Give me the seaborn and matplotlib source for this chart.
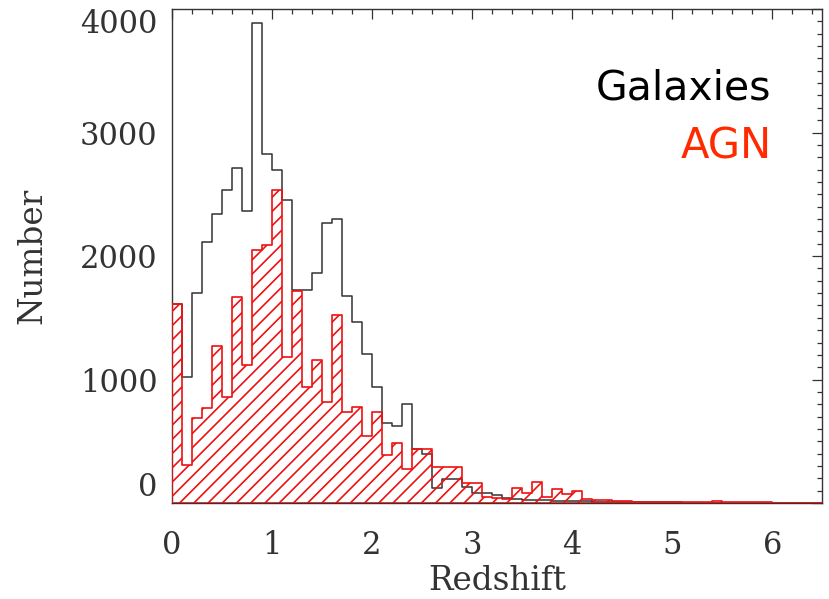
import numpy as np
import pandas as pd
import matplotlib
matplotlib.use("Agg")
import matplotlib.pyplot as plt
import seaborn as sns
from matplotlib.ticker import MultipleLocator

# ---- data (counts per redshift bin of width 0.1, starting at z=0) ----
bin_width = 0.1
bin_start = 0.0
galaxies = [1610, 1025, 1700, 2110, 2340, 2535, 2710, 2365, 3890, 2825,
            2695, 2455, 1725, 1725, 1865, 2270, 2300, 1675, 1470, 1210,
            940, 645, 625, 800, 440, 400, 120, 195, 195, 130,
            85, 80, 70, 40, 30, 25, 25, 22, 20, 20,
            18, 15, 12, 10, 10, 8, 8, 7, 7, 6,
            6, 5, 5, 5, 5, 4, 4, 4, 4, 3,
            3, 3, 3, 3, 3]
agn = [1610, 305, 686, 767, 1271, 861, 1671, 1117, 2050, 2090,
       2535, 1180, 1720, 937, 1158, 820, 1522, 740, 775, 542,
       740, 389, 489, 273, 440, 440, 289, 289, 289, 165,
       165, 51, 40, 30, 125, 80, 173, 50, 115, 73,
       100, 30, 24, 24, 17, 15, 10, 8, 8, 8,
       7, 7, 7, 7, 20, 7, 6, 6, 6, 6,
       5, 5, 5, 5, 5]
x_ticks = [0, 1, 2, 3, 4, 5, 6]
y_ticks = [0, 1000, 2000, 3000, 4000]
x_label = "Redshift"
y_label = "Number"
legend_labels = ["Galaxies", "AGN"]

DPI = 128
K = 100.0 / DPI  # sizes below are tuned in "pt at 100 dpi"

sns.set_style("white")
plt.rcParams["hatch.color"] = "#ee1111"
plt.rcParams["hatch.linewidth"] = 1.2 * K

n = len(galaxies)
centers = bin_start + bin_width * (np.arange(n) + 0.5)
df = pd.DataFrame({"z": centers, "gal": galaxies, "agn": agn})
brange = (bin_start, bin_start + bin_width * n)

fig = plt.figure(figsize=(829 / DPI, 599 / DPI), dpi=DPI)
ax = fig.add_axes([0.207, 0.160, 0.785, 0.825])

sns.histplot(data=df, x="z", weights="gal", binwidth=bin_width,
             binrange=brange, element="step",
             fill=False, color="#333333", linewidth=1.1 * K, ax=ax,
             zorder=3)
sns.histplot(data=df, x="z", weights="agn", binwidth=bin_width,
             binrange=brange, element="step", color="#ee1111",
             fill=True, facecolor="none", edgecolor="#ee1111", hatch="///",
             linewidth=1.2 * K, ax=ax, zorder=3.5)

ax.set_xlim(0, 6.5)
ax.set_ylim(0, 4000)
ax.set_xticks(x_ticks)
ax.set_yticks(y_ticks)
ax.set_xticklabels([str(t) for t in x_ticks])
ax.set_yticklabels([str(t) for t in y_ticks])
ax.xaxis.set_minor_locator(MultipleLocator(0.2))
ax.yaxis.set_minor_locator(MultipleLocator(100))
ax.tick_params(which="both", direction="in", top=True, right=True,
               color="#333333", width=0.9 * K)
ax.tick_params(which="major", length=7 * K)
ax.tick_params(which="minor", length=3.5 * K)
ax.tick_params(axis="x", which="major", pad=19 * K)
ax.tick_params(axis="y", which="major", pad=10 * K)
for lab in ax.get_xticklabels() + ax.get_yticklabels():
    lab.set_fontfamily("DejaVu Serif")
    lab.set_fontsize(22 * K)
    lab.set_color("#333333")
ylabs = ax.get_yticklabels()
ylabs[0].set_va("bottom")
ylabs[-1].set_va("top")

for s in ax.spines.values():
    s.set_visible(True)
    s.set_color("#333333")
    s.set_linewidth(1.0 * K)

ax.set_xlabel(x_label, fontfamily="DejaVu Serif", fontsize=23.5 * K,
              color="#333333")
ax.set_ylabel(y_label, fontfamily="DejaVu Serif", fontsize=23.5 * K,
              color="#333333")
ax.xaxis.set_label_coords(0.5, -0.125)
ax.yaxis.set_label_coords(-0.19, 0.5)

ax.text(0.922, 0.816, legend_labels[0], transform=ax.transAxes, ha="right",
        va="baseline", fontsize=29.5 * K, color="black",
        fontfamily="DejaVu Sans")
ax.text(0.922, 0.698, legend_labels[1], transform=ax.transAxes, ha="right",
        va="baseline", fontsize=30 * K, color="#ff2a00",
        fontfamily="DejaVu Sans")

fig.savefig("out.png", dpi=DPI)
